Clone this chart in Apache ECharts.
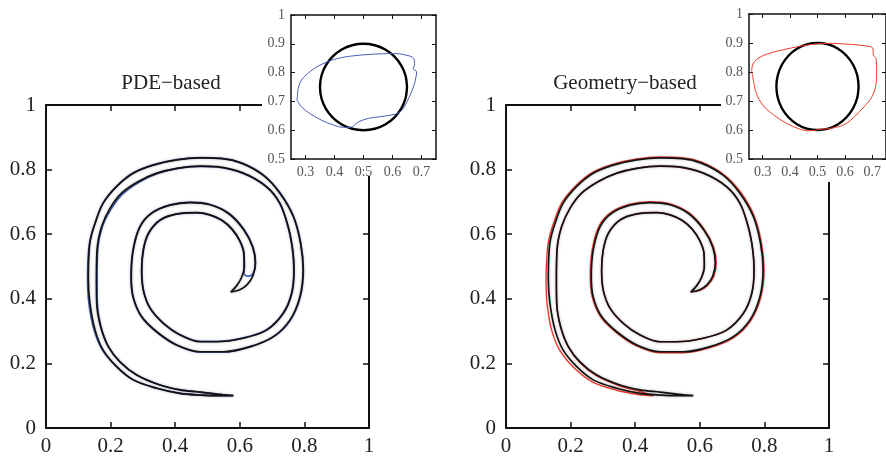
<!DOCTYPE html>
<html>
<head>
<meta charset="utf-8">
<title>Single vortex: PDE-based vs Geometry-based</title>
<script src="https://cdn.jsdelivr.net/npm/echarts@6/dist/echarts.min.js"></script>
<style>
  html, body { margin: 0; padding: 0; background: #ffffff; }
  #chart { width: 886px; height: 459px; }
</style>
</head>
<body>
<div id="chart"></div>
<script>
// Tick positions
const mainTicks = [0, 0.2, 0.4, 0.6, 0.8, 1];
const insetXTicks = [0.3, 0.4, 0.5, 0.6, 0.7];
const insetYTicks = [0.5, 0.6, 0.7, 0.8, 0.9, 1];

// Reference filament at maximum stretch: outer edge (tail tip -> inner tip)
const exactEdgeOuter = [
  [0.580,0.100],[0.540,0.100],[0.477,0.102],[0.415,0.107],[0.343,0.123],[0.270,0.149],
  [0.219,0.190],[0.177,0.241],[0.152,0.303],[0.136,0.386],[0.131,0.460],[0.132,0.520],
  [0.137,0.580],[0.152,0.634],[0.177,0.696],[0.219,0.748],[0.270,0.789],[0.332,0.814],
  [0.405,0.830],[0.477,0.836],[0.545,0.834],[0.605,0.820],[0.673,0.782],[0.724,0.727],
  [0.766,0.654],[0.788,0.572],[0.796,0.490],[0.786,0.406],[0.755,0.334],[0.704,0.283],
  [0.632,0.252],[0.549,0.236],[0.477,0.236],[0.405,0.257],[0.343,0.298],[0.296,0.345],
  [0.270,0.406],[0.264,0.470],[0.270,0.551],[0.291,0.623],[0.327,0.665],[0.384,0.690],
  [0.446,0.698],[0.508,0.691],[0.565,0.664],[0.612,0.614],[0.640,0.560],[0.648,0.510],
  [0.640,0.470],[0.622,0.443],[0.600,0.428],[0.572,0.421]
];
// Reference filament: inner edge (tail tip -> inner tip)
const exactEdgeInner = [
  [0.580,0.100],[0.530,0.105],[0.477,0.111],[0.415,0.118],[0.353,0.133],[0.281,0.164],
  [0.229,0.205],[0.193,0.252],[0.169,0.314],[0.157,0.386],[0.156,0.460],[0.158,0.551],
  [0.172,0.623],[0.198,0.680],[0.234,0.727],[0.286,0.763],[0.343,0.789],[0.405,0.804],
  [0.477,0.811],[0.528,0.809],[0.611,0.789],[0.683,0.747],[0.724,0.696],[0.750,0.623],
  [0.764,0.551],[0.768,0.489],[0.761,0.417],[0.735,0.355],[0.683,0.303],[0.611,0.278],
  [0.528,0.267],[0.477,0.267],[0.415,0.288],[0.363,0.324],[0.322,0.371],[0.301,0.427],
  [0.296,0.489],[0.301,0.551],[0.317,0.603],[0.353,0.644],[0.405,0.663],[0.467,0.667],
  [0.508,0.660],[0.545,0.643],[0.577,0.615],[0.600,0.580],[0.613,0.540],[0.614,0.500],
  [0.605,0.465],[0.590,0.440],[0.572,0.421]
];

// PDE-based interface at maximum stretch
const pdeEdgeOuter = [
  [0.580,0.100],[0.540,0.100],[0.477,0.102],[0.415,0.107],[0.343,0.123],[0.270,0.149],
  [0.218,0.190],[0.175,0.241],[0.149,0.303],[0.133,0.386],[0.129,0.460],[0.130,0.520],
  [0.136,0.580],[0.152,0.634],[0.177,0.697],[0.219,0.749],[0.270,0.790],[0.332,0.815],
  [0.405,0.831],[0.477,0.837],[0.545,0.835],[0.605,0.821],[0.674,0.783],[0.725,0.728],
  [0.767,0.654],[0.789,0.572],[0.797,0.490],[0.787,0.405],[0.756,0.333],[0.704,0.282],
  [0.632,0.251],[0.549,0.235],[0.477,0.235],[0.405,0.256],[0.342,0.297],[0.295,0.345],
  [0.269,0.406],[0.263,0.470],[0.269,0.551],[0.290,0.623],[0.327,0.666],[0.384,0.691],
  [0.446,0.699],[0.508,0.692],[0.566,0.665],[0.613,0.615],[0.641,0.560],[0.649,0.510],
  [0.641,0.478],[0.626,0.470],[0.613,0.478]
];
const pdeEdgeInner = [
  [0.580,0.100],[0.530,0.105],[0.477,0.111],[0.415,0.118],[0.353,0.133],[0.281,0.164],
  [0.229,0.205],[0.193,0.252],[0.170,0.314],[0.159,0.386],[0.158,0.460],[0.160,0.551],
  [0.174,0.622],[0.201,0.677],[0.237,0.724],[0.288,0.761],[0.344,0.787],[0.405,0.803],
  [0.477,0.810],[0.528,0.808],[0.611,0.788],[0.683,0.746],[0.723,0.696],[0.749,0.623],
  [0.763,0.551],[0.767,0.489],[0.760,0.417],[0.734,0.356],[0.683,0.304],[0.611,0.279],
  [0.528,0.268],[0.477,0.268],[0.415,0.289],[0.364,0.325],[0.323,0.371],[0.302,0.427],
  [0.297,0.489],[0.302,0.551],[0.318,0.602],[0.354,0.643],[0.405,0.662],[0.467,0.666],
  [0.508,0.659],[0.545,0.642],[0.576,0.614],[0.599,0.580],[0.612,0.540],[0.613,0.500]
];

// Geometry-based interface at maximum stretch
const geomEdgeOuter = [
  [0.456,0.100],[0.415,0.103],[0.343,0.117],[0.268,0.142],[0.213,0.184],[0.168,0.238],
  [0.142,0.300],[0.127,0.386],[0.124,0.460],[0.126,0.520],[0.132,0.580],[0.148,0.636],
  [0.174,0.699],[0.217,0.751],[0.269,0.792],[0.332,0.817],[0.405,0.833],[0.477,0.839],
  [0.545,0.837],[0.606,0.823],[0.675,0.784],[0.727,0.729],[0.769,0.655],[0.791,0.572],
  [0.799,0.490],[0.789,0.405],[0.757,0.331],[0.705,0.280],[0.632,0.249],[0.549,0.233],
  [0.477,0.233],[0.404,0.254],[0.341,0.296],[0.293,0.344],[0.267,0.406],[0.261,0.470],
  [0.267,0.552],[0.288,0.625],[0.325,0.668],[0.383,0.693],[0.446,0.701],[0.509,0.694],
  [0.567,0.666],[0.614,0.615],[0.643,0.560],[0.651,0.510],[0.643,0.468],[0.624,0.441],
  [0.601,0.426],[0.572,0.421]
];
const geomEdgeInner = [
  [0.456,0.100],[0.415,0.113],[0.353,0.130],[0.281,0.161],[0.229,0.202],[0.193,0.250],
  [0.169,0.312],[0.157,0.386],[0.156,0.460],[0.158,0.551],[0.172,0.623],[0.198,0.680],
  [0.234,0.727],[0.286,0.763],[0.343,0.789],[0.405,0.804],[0.477,0.811],[0.528,0.809],
  [0.611,0.789],[0.683,0.747],[0.724,0.696],[0.750,0.623],[0.764,0.551],[0.768,0.489],
  [0.761,0.417],[0.735,0.355],[0.683,0.303],[0.611,0.278],[0.528,0.267],[0.477,0.267],
  [0.415,0.288],[0.363,0.324],[0.322,0.371],[0.301,0.427],[0.296,0.489],[0.301,0.551],
  [0.317,0.603],[0.353,0.644],[0.405,0.663],[0.467,0.667],[0.508,0.660],[0.545,0.643],
  [0.577,0.615],[0.600,0.580],[0.613,0.540],[0.614,0.500],[0.605,0.465],[0.590,0.440],
  [0.572,0.421]
];

// Initial circle, centre (0.5, 0.75), radius 0.15
const initialCircle = [
  [0.650,0.750],[0.645,0.789],[0.630,0.825],[0.606,0.856],[0.575,0.880],[0.539,0.895],
  [0.500,0.900],[0.461,0.895],[0.425,0.880],[0.394,0.856],[0.370,0.825],[0.355,0.789],
  [0.350,0.750],[0.355,0.711],[0.370,0.675],[0.394,0.644],[0.425,0.620],[0.461,0.605],
  [0.500,0.600],[0.539,0.605],[0.575,0.620],[0.606,0.644],[0.630,0.675],[0.645,0.711],
  [0.650,0.750]
];

// Interface after flow reversal
const pdeReturned = [
  [0.271,0.704],[0.275,0.745],[0.286,0.774],[0.315,0.803],[0.350,0.826],[0.396,0.845],
  [0.454,0.857],[0.535,0.864],[0.604,0.866],[0.650,0.860],[0.673,0.849],[0.676,0.826],
  [0.671,0.814],[0.683,0.803],[0.679,0.774],[0.668,0.739],[0.650,0.699],[0.633,0.670],
  [0.610,0.656],[0.558,0.647],[0.517,0.641],[0.483,0.629],[0.454,0.610],[0.431,0.610],
  [0.396,0.618],[0.355,0.635],[0.315,0.658],[0.286,0.681],[0.271,0.704]
];
const geomReturned = [
  [0.260,0.801],[0.263,0.824],[0.283,0.847],[0.323,0.864],[0.381,0.878],[0.462,0.893],
  [0.543,0.899],[0.624,0.895],[0.676,0.890],[0.702,0.882],[0.704,0.859],[0.713,0.847],
  [0.716,0.807],[0.714,0.761],[0.699,0.715],[0.670,0.680],[0.635,0.646],[0.606,0.623],
  [0.566,0.609],[0.508,0.602],[0.468,0.597],[0.439,0.602],[0.387,0.623],[0.340,0.652],
  [0.300,0.686],[0.277,0.726],[0.266,0.772],[0.260,0.801]
];

// Join the two edges of a filament into one closed outline
function closeBand(outer, inner) {
  return outer.concat(inner.slice().reverse());
}

const SERIF = 'Liberation Serif, Times New Roman, DejaVu Serif, serif';

function axisPair(kind, gridIndex, opts) {
  const isX = kind === 'x';
  const base = {
    type: 'value',
    gridIndex: gridIndex,
    min: opts.min,
    max: opts.max,
    z: opts.z,
    splitLine: { show: false },
    axisLine: { show: true, onZero: false, lineStyle: { color: '#111', width: opts.lineWidth } },
    axisTick: {
      show: true, inside: true, length: opts.tickLen,
      customValues: opts.ticks,
      lineStyle: { color: '#111', width: opts.tickWidth }
    }
  };
  const primary = Object.assign({}, base, {
    position: isX ? 'bottom' : 'left',
    axisLabel: {
      show: true, customValues: opts.ticks, margin: opts.margin,
      fontFamily: SERIF, fontSize: opts.fontSize, color: opts.labelColor
    }
  });
  const secondary = Object.assign({}, base, {
    position: isX ? 'top' : 'right',
    axisLabel: { show: false }
  });
  return [primary, secondary];
}

const mainAxisOpts = { min: 0, max: 1, ticks: mainTicks, z: 0, lineWidth: 2, tickLen: 6, tickWidth: 1.5, fontSize: 21, labelColor: '#222' };
const insetXOpts = { min: 0.25, max: 0.75, ticks: insetXTicks, z: 60, lineWidth: 1.5, tickLen: 4, tickWidth: 1, fontSize: 14, labelColor: '#555', margin: 6 };
const insetYOpts = { min: 0.5, max: 1, ticks: insetYTicks, z: 60, lineWidth: 1.5, tickLen: 4, tickWidth: 1, fontSize: 14, labelColor: '#555', margin: 6 };

const xAxes = [].concat(
  axisPair('x', 0, Object.assign({ margin: 8 }, mainAxisOpts)),
  axisPair('x', 1, insetXOpts),
  axisPair('x', 2, Object.assign({ margin: 8 }, mainAxisOpts)),
  axisPair('x', 3, insetXOpts)
);
const yAxes = [].concat(
  axisPair('y', 0, Object.assign({ margin: 10 }, mainAxisOpts)),
  axisPair('y', 1, insetYOpts),
  axisPair('y', 2, Object.assign({ margin: 10 }, mainAxisOpts)),
  axisPair('y', 3, insetYOpts)
);

function curve(name, data, axisIndex, color, width, z, halo) {
  const ls = { color: color, width: width };
  if (halo) {
    ls.shadowBlur = 3;
    ls.shadowColor = 'rgba(0,0,0,0.3)';
  }
  return {
    name: name,
    type: 'line',
    xAxisIndex: axisIndex,
    yAxisIndex: axisIndex,
    data: data,
    showSymbol: false,
    symbol: 'none',
    smooth: 0.35,
    silent: true,
    animation: false,
    z: z,
    lineStyle: ls
  };
}

const BLUE = '#4b5fb8';
const RED = '#ee3b2e';

const exactBand = closeBand(exactEdgeOuter, exactEdgeInner);

// White backing behind each inset, plus a strip hiding the top of the main frame's right edge
function insetBacking(x, w, h, frameX, frameH) {
  return [
    { type: 'rect', z: 50, silent: true, shape: { x: x, y: 0, width: w, height: h }, style: { fill: '#ffffff' } },
    { type: 'rect', z: 50, silent: true, shape: { x: frameX - 5, y: 0, width: 10, height: frameH }, style: { fill: '#ffffff' } }
  ];
}

const option = {
  backgroundColor: '#ffffff',
  animation: false,
  grid: [
    { left: 46, top: 105, width: 323, height: 323, show: false },
    { left: 291, top: 15, width: 145, height: 144, show: false, z: 60 },
    { left: 506, top: 105, width: 323, height: 323, show: false },
    { left: 749, top: 14, width: 145, height: 145, show: false, z: 60 }
  ],
  xAxis: xAxes,
  yAxis: yAxes,
  graphic: [].concat(
    insetBacking(262, 180, 167, 369, 176),
    insetBacking(721, 170, 167, 829, 182),
    [
      { type: 'text', z: 55, x: 171, y: 83, style: { text: 'PDE\u2212based', font: '21px ' + SERIF, fill: '#222', align: 'center', verticalAlign: 'middle' } },
      { type: 'text', z: 55, x: 625, y: 83, style: { text: 'Geometry\u2212based', font: '21px ' + SERIF, fill: '#222', align: 'center', verticalAlign: 'middle' } }
    ]
  ),
  series: [
    curve('PDE-based', closeBand(pdeEdgeOuter, pdeEdgeInner), 0, BLUE, 1.7, 2, false),
    curve('exact', exactBand, 0, '#111', 1.7, 3, true),
    curve('initial', initialCircle, 2, '#000', 2.4, 61, false),
    curve('PDE-based returned', pdeReturned, 2, BLUE, 1, 62, false),
    curve('Geometry-based', closeBand(geomEdgeOuter, geomEdgeInner), 4, RED, 1.4, 2, false),
    curve('exact', exactBand, 4, '#111', 1.7, 3, true),
    curve('initial', initialCircle, 6, '#000', 2.4, 61, false),
    curve('Geometry-based returned', geomReturned, 6, RED, 1, 62, false)
  ]
};

const chart = echarts.init(document.getElementById('chart'), null, { renderer: 'canvas' });
chart.setOption(option);
</script>
</body>
</html>
